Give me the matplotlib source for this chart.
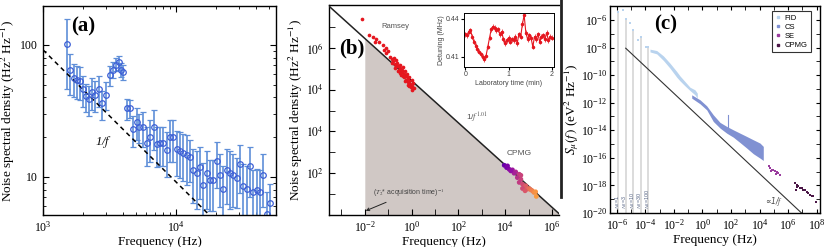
import numpy as np
import matplotlib
matplotlib.use('Agg')
import matplotlib.pyplot as plt
from matplotlib.ticker import FixedLocator, NullFormatter, FixedFormatter
from matplotlib.lines import Line2D

plt.rcParams['font.family'] = ['Liberation Serif', 'DejaVu Serif']
plt.rcParams['mathtext.fontset'] = 'stix'
plt.rcParams['axes.linewidth'] = 1.0

SANS = ['Liberation Sans', 'DejaVu Sans']

# ---------------- Panel (a) data ----------------
a_freq = [1514, 1595, 1721, 1812, 1897, 2010, 2104, 2229, 2349, 2473, 2622, 2793, 2977,
          3190, 3344, 3542, 3727, 3840, 4018, 4255, 4509, 4776, 5060, 5301, 5680, 6013,
          6377, 6834, 7158, 7586, 8040, 8520, 9020, 9550, 10120, 10700, 11350, 12000,
          12740, 13500, 14300, 15100, 16050, 17000, 18000, 19100, 20200, 21400, 22700,
          24000, 25400, 27000, 28600, 30300, 32100, 34000, 36000, 38200, 40400, 42800,
          45400, 48100, 50900]
a_psd = [101, 64, 56, 54, 53, 46, 41, 39, 44, 42, 46, 36, 42,
         59, 65, 71, 74, 65, 62, 33, 33, 23, 26, 24, 24, 18,
         20, 24, 17.8, 18, 18, 16, 20, 20, 16.2, 15.8, 15.3, 14.7,
         14.1, 11.3, 10.7, 11.8, 8.7, 10.7, 9.5, 9.5, 13.3, 10.4, 8.1,
         11.2, 10.7, 10.4, 9.8, 12.5, 8.5, 8.1, 12.0, 7.7, 8.0, 7.7,
         10.4, 5.2, 6.3]
a_err = [55, 22, 16, 15, 15, 12, 10, 10, 12, 11, 12, 9, 10,
         10, 9, 8, 9, 8, 8, 6, 5, 6, 7, 6, 7, 6,
         7, 8, 6, 6, 6, 6, 7, 7, 6, 6, 6, 6,
         5, 5, 5, 5, 4, 5, 4, 4, 5, 4.5, 4,
         5, 5, 4.5, 4, 5, 4, 4, 5, 3.5, 3.5, 3.5,
         4.5, 2.5, 2.5]
a_ref_f = [1000, 20000]
a_ref_amp = 91.7  # 1/f reference line amplitude at 1 kHz

# ---------------- Panel (b) data ----------------
ramsey_logf = [-2.11, -1.82, -1.67, -1.50, -1.39, -1.56, -1.22, -1.11, -1.19, -1.01, -1.08,
               -0.94, -0.85, -0.77, -0.79, -0.68, -0.72, -0.62, -0.57, -0.65, -0.51, -0.48,
               -0.54, -0.43, -0.37, -0.40, -0.34, -0.28, -0.26, -0.31, -0.20, -0.17, -0.23,
               -0.11, -0.09, -0.14, -0.06, 0.00, 0.03, -0.03, 0.06, 0.09, 0.03, -0.37, -0.45,
               -0.58, -0.71, -0.82, -0.51, -0.28, -0.09, -0.16]
ramsey_logS = [9.37, 8.62, 8.51, 8.41, 8.30, 8.27, 8.14, 7.98, 7.90, 7.83, 7.75,
               7.56, 7.46, 7.49, 7.35, 7.40, 7.24, 7.27, 7.14, 7.11, 7.19, 7.03,
               6.92, 6.95, 7.08, 6.83, 6.76, 6.87, 6.67, 6.60, 6.73, 6.54, 6.48,
               6.60, 6.41, 6.35, 6.29, 6.48, 6.19, 6.13, 6.32, 6.08, 6.00, 6.63, 6.71,
               6.87, 7.03, 7.27, 6.79, 6.40, 6.19, 6.24]
cpmg_logf = [3.96, 4.06, 4.17, 4.31, 4.45, 4.60, 4.52, 4.67, 4.60, 4.74, 4.81, 4.88, 4.95,
             5.02, 5.09, 5.16, 5.23, 5.30, 5.33, 4.74, 4.85, 4.67, 4.38, 4.24, 4.10]
cpmg_logS = [2.38, 2.27, 2.19, 2.16, 2.06, 1.95, 1.79, 1.71, 1.56, 1.48, 1.32, 1.40, 1.24,
             1.27, 1.21, 1.16, 1.08, 1.11, 0.89, 1.27, 1.16, 1.90, 2.00, 2.11, 2.35]
b_slope = 1.01
b_amp = 10 ** 6.43
b_ytick_labels = ['$10^{2}$', '$10^{4}$', '$10^{4}$', '$10^{6}$']

inset_t = [0.00, 0.04, 0.08, 0.12, 0.16, 0.20, 0.24, 0.28, 0.32, 0.36, 0.40, 0.44, 0.48,
           0.52, 0.56, 0.60, 0.64, 0.68, 0.72, 0.76, 0.80, 0.84, 0.88, 0.92, 0.96, 1.00,
           1.04, 1.08, 1.12, 1.16, 1.20, 1.24, 1.28, 1.32, 1.36, 1.40, 1.44, 1.48, 1.52,
           1.56, 1.60, 1.64, 1.68, 1.72, 1.76, 1.80, 1.84, 1.88, 1.92, 1.96, 2.00]
inset_det = [0.428, 0.427, 0.430, 0.431, 0.426, 0.422, 0.419, 0.416, 0.414, 0.412, 0.410,
             0.408, 0.411, 0.418, 0.425, 0.432, 0.434, 0.433, 0.431, 0.432, 0.428, 0.430,
             0.424, 0.421, 0.423, 0.425, 0.422, 0.424, 0.423, 0.426, 0.421, 0.428, 0.426,
             0.436, 0.443, 0.429, 0.424, 0.427, 0.425, 0.418, 0.426, 0.424, 0.428, 0.422,
             0.426, 0.427, 0.424, 0.429, 0.423, 0.426, 0.425]
inset_err = [0.002] * len(inset_t)

# ---------------- Panel (c) data ----------------
fid_pts_logf = [-5.88, -5.53, -5.37, -5.07, -4.83, -4.48, -4.32, -3.95, -3.78]
fid_pts_logS = [-5.40, -5.28, -5.95, -6.24, -6.72, -7.45, -7.21, -7.93, -7.98]
fid_band_logf = [-3.67, -3.20, -2.73, -2.27, -1.80, -1.57, -1.22, -0.87, -0.52, -0.36]
fid_band_hi = [-8.12, -8.22, -8.61, -9.14, -9.74, -10.06, -10.47, -10.88, -11.07, -11.31]
fid_band_lo = [-8.32, -8.46, -8.94, -9.50, -10.15, -10.42, -10.78, -11.12, -11.43, -11.67]
cs_band_logf = [-0.75, -0.17, 0.30, 0.76, 1.23, 1.70, 2.16, 2.63, 3.10, 3.56, 4.03, 4.26]
cs_band_hi = [-11.43, -11.79, -12.23, -12.88, -13.43, -13.72, -13.97, -14.21, -14.45, -14.69, -14.93, -15.17]
cs_band_lo = [-11.67, -12.08, -12.52, -13.36, -13.84, -14.21, -14.50, -14.89, -15.29, -15.70, -16.02, -16.19]
cs_spike_logf = [1.81, 1.81]
cs_spike_logS = [-12.88, -13.75]
se_logf = [4.64, 4.73, 4.85, 4.96, 5.08, 5.20, 5.31, 5.43, 4.78, 5.15]
se_logS = [-16.62, -16.74, -16.86, -16.91, -16.98, -17.05, -17.10, -17.22, -16.98, -17.15]
cp_logf = [6.48, 6.60, 6.71, 6.83, 6.95, 7.06, 7.18, 7.30, 7.41, 7.53, 7.65, 7.76, 6.55, 6.65, 7.95]
cp_logS = [-17.83, -17.95, -18.07, -18.19, -18.19, -18.31, -18.36, -18.50, -18.55, -18.67,
           -18.74, -18.79, -18.31, -18.12, -19.23]
nr_labels = ['1', '3', '10', '30', '100']
nr_logf = [-5.89, -5.37, -4.84, -4.32, -3.79]
nr_top_logS = [-5.40, -5.95, -6.72, -7.21, -7.93]
c_line_logf = [-5.37, 7.06]
c_line_logS = [-8.05, -20.12]

FID_C = '#b9d3ee'
CS_C = '#8091d2'
SE_C = '#9a3d9e'
CP_C = '#4b1747'

fig = plt.figure(figsize=(8.31, 2.47), dpi=100)

# ================= Panel (a) =================
axa = fig.add_axes([43/831, 1-215/247, 233/831, 209/247])
axa.set_xscale('log'); axa.set_yscale('log')
axa.errorbar(a_freq, a_psd, yerr=a_err, fmt='o', mfc='none', mec='#3d5fd6', ms=4.0, mew=0.9,
             ecolor='#5f8fd8', elinewidth=1.2, capsize=2.2, capthick=1.0)
ref_f = np.array(a_ref_f, dtype=float)
axa.plot(ref_f, a_ref_amp * 1000 / ref_f, 'k--', lw=1.1, dashes=(3, 2.5))
axa.set_xlim(1000, 10 ** 4.752)
axa.set_ylim(5.15, 197)
axa.set_xticks([1e3, 1e4])
axa.set_yticks([10, 100])
axa.set_yticklabels(['10', '100'])
axa.tick_params(which='both', direction='in', top=True, right=True, labelsize=8.5)
axa.tick_params(which='major', length=4)
axa.tick_params(which='minor', length=2)
axa.set_xlabel('Frequency (Hz)', fontsize=9.5, labelpad=1)
axa.set_ylabel('Noise spectral density (Hz$^2$ Hz$^{-1}$)', fontsize=9.5, labelpad=2)
axa.text(2000, 138, '(a)', fontsize=15, fontweight='bold', ha='center', va='center')
axa.text(2845, 18.5, '1/$f$', fontsize=9, fontstyle='italic', ha='center', va='center')

# ================= Panel (b) =================
axb = fig.add_axes([329/831, 1-215/247, 230/831, 210/247])
axb.set_xscale('log'); axb.set_yscale('log')
xl = (10 ** -3.53, 10 ** 6.3)
yl = (1, 10 ** 10.05)
fx = np.logspace(-2, 6.3, 200)
axb.fill_between(fx, b_amp * fx ** (-b_slope), 1, color='#d0c8c5', lw=0, zorder=1)
lx = np.logspace(-3.53, 6.3, 200)
axb.plot(lx, b_amp * lx ** (-b_slope), color='#222222', lw=1.1, zorder=3)
axb.scatter(10 ** np.array(ramsey_logf), 10 ** np.array(ramsey_logS), s=7, c='#e5161f',
            lw=0, zorder=4)
cpx = np.array(cpmg_logf)
axb.scatter(10 ** cpx, 10 ** np.array(cpmg_logS), s=12, c=cpx, cmap='plasma',
            vmin=3.5, vmax=5.9, lw=0, zorder=4)
axb.set_xlim(*xl); axb.set_ylim(*yl)
axb.xaxis.set_major_locator(FixedLocator([1e-2, 1, 1e2, 1e4, 1e6]))
axb.xaxis.set_minor_locator(FixedLocator([1e-3, 1e-1, 1e1, 1e3, 1e5]))
axb.xaxis.set_minor_formatter(NullFormatter())
axb.yaxis.set_major_locator(FixedLocator([1e2, 1e4, 1e6, 1e8]))
axb.yaxis.set_major_formatter(FixedFormatter(b_ytick_labels))
axb.yaxis.set_minor_locator(FixedLocator([1e1, 1e3, 1e5, 1e7, 1e9]))
axb.yaxis.set_minor_formatter(NullFormatter())
axb.tick_params(which='both', direction='in', labelsize=8.5)
axb.tick_params(which='major', length=4)
axb.tick_params(which='minor', length=4)
axb.spines['right'].set_visible(False)
axb.set_xlabel('Frequency (Hz)', fontsize=9.5, labelpad=1)
axb.set_ylabel('Noise spectral density (Hz$^2$ Hz$^{-1}$)', fontsize=9.5, labelpad=1)
axb.text(10 ** -2.55, 10 ** 7.95, '(b)', fontsize=15, fontweight='bold', ha='center', va='center', zorder=5)
axb.text(10 ** -1.3, 10 ** 9.0, 'Ramsey', fontsize=5.5, family=SANS, color='#555555', ha='left', va='center')
axb.text(10 ** 2.8, 10 ** 4.65, '1/$f^{1.01}$', fontsize=6, family=SANS, color='#555555', ha='center', va='center')
axb.text(10 ** 4.05, 10 ** 2.95, 'CPMG', fontsize=6, family=SANS, color='#555555', ha='left', va='center')
axb.annotate('($T_2$* acquisition time)$^{-1}$', xy=(10 ** -1.96, 10 ** 0.2),
             xytext=(10 ** -1.67, 10 ** 1.05), fontsize=5, family=SANS, color='#444444',
             ha='left', va='center',
             arrowprops=dict(arrowstyle='->', color='#222222', lw=0.7, shrinkA=1, shrinkB=0))

# inset
axi = fig.add_axes([464/831, 1-67/247, 90/831, 54/247])
axi.errorbar(inset_t, inset_det, yerr=inset_err, fmt='-o', color='#e5161f', ms=1.5,
             lw=0.8, elinewidth=0.5, capsize=0)
axi.set_xlim(-0.03, 2.05)
axi.set_ylim(0.402, 0.4447)
axi.set_xticks([0, 1, 2]); axi.set_xticklabels(['0', '1', '2'])
axi.set_yticks([0.41, 0.44]); axi.set_yticklabels(['0.41', '0.44'])
axi.tick_params(labelsize=5, length=2, pad=1)
for lab in axi.get_xticklabels() + axi.get_yticklabels():
    lab.set_family(SANS); lab.set_color('#444444')
axi.set_xlabel('Laboratory time (min)', fontsize=5, family=SANS, color='#444444', labelpad=1)
axi.set_ylabel('Detuning (MHz)', fontsize=5, family=SANS, color='#444444', labelpad=1)
for s in axi.spines.values():
    s.set_linewidth(0.7)

# ================= Panel (c) =================
axc = fig.add_axes([610/831, 1-213/247, 210/831, 207/247])
axc.set_xscale('log'); axc.set_yscale('log')
for lf, top in zip(nr_logf, nr_top_logS):
    axc.vlines(10 ** lf, 1e-20, 10 ** top, color='#dcdcdc', lw=1.4, zorder=1)
for lf, lab in zip(nr_logf, nr_labels):
    axc.text(10 ** (lf - 0.04), 10 ** -19.7, '$N_R$=' + lab, rotation=90, fontsize=3.9,
             family=SANS, color='#5a6888', ha='center', va='bottom', zorder=2)
axc.plot(10 ** np.array(c_line_logf), 10 ** np.array(c_line_logS), color='#333333', lw=0.8, zorder=2)
axc.fill_between(10 ** np.array(fid_band_logf), 10 ** np.array(fid_band_lo),
                 10 ** np.array(fid_band_hi), color=FID_C, lw=0, zorder=3)
axc.scatter(10 ** np.array(fid_pts_logf), 10 ** np.array(fid_pts_logS), s=3, c=FID_C, marker='s', lw=0, zorder=3)
axc.fill_between(10 ** np.array(cs_band_logf), 10 ** np.array(cs_band_lo),
                 10 ** np.array(cs_band_hi), color=CS_C, lw=0, zorder=3)
axc.plot(10 ** np.array(cs_spike_logf), 10 ** np.array(cs_spike_logS), color=CS_C, lw=0.8, zorder=3)
axc.scatter(10 ** np.array(se_logf), 10 ** np.array(se_logS), s=3, c=SE_C, marker='s', lw=0, zorder=3)
axc.scatter(10 ** np.array(cp_logf), 10 ** np.array(cp_logS), s=3, c=CP_C, marker='s', lw=0, zorder=3)
axc.set_xlim(10 ** -6.47, 10 ** 8.23)
axc.set_ylim(1e-20, 10 ** -4.99)
axc.xaxis.set_major_locator(FixedLocator([10.0 ** k for k in range(-6, 9, 2)]))
axc.xaxis.set_minor_locator(FixedLocator([10.0 ** k for k in range(-5, 9, 2)]))
axc.xaxis.set_minor_formatter(NullFormatter())
axc.yaxis.set_major_locator(FixedLocator([10.0 ** k for k in range(-20, -5, 2)]))
axc.yaxis.set_minor_locator(FixedLocator([10.0 ** k for k in range(-19, -4, 2)]))
axc.yaxis.set_minor_formatter(NullFormatter())
axc.tick_params(which='both', direction='in', top=True, right=True, labelsize=8.5, length=3)
axc.tick_params(axis='y', pad=2)
axc.set_xlabel('Frequency (Hz)', fontsize=9.5, labelpad=1)
axc.set_ylabel('$S_{\\mu}(f\\,)$ (eV$^2$ Hz$^{-1}$)', fontsize=9.5, labelpad=0)
axc.text(10 ** -2.6, 10 ** -6.36, '(c)', fontsize=15, fontweight='bold', ha='center', va='center')
axc.text(10 ** 4.4, 10 ** -19.15, '\u221d1/$f$', fontsize=5.5, family=['DejaVu Sans'], color='#444444',
         ha='left', va='center', fontstyle='italic')
handles = [Line2D([], [], ls='none', marker='s', ms=1.6, color=c) for c in (FID_C, CS_C, SE_C, CP_C)]
leg = axc.legend(handles, ['FID', 'CS', 'SE', 'CPMG'], loc='upper right', bbox_to_anchor=(0.955, 0.975),
                 prop={'family': SANS, 'size': 5.5}, frameon=True, fancybox=False, handlelength=0.8,
                 handletextpad=0.5, borderpad=0.4, labelspacing=0.25, borderaxespad=0)
leg.get_frame().set_edgecolor('black'); leg.get_frame().set_linewidth(0.8)

# dark border fragment between panels (b) and (c)
fig.add_artist(Line2D([561/831, 561/831], [1.0, 1 - 197/247], color='#222222', lw=2.0,
                      transform=fig.transFigure))

fig.savefig('out.png', dpi=100)
